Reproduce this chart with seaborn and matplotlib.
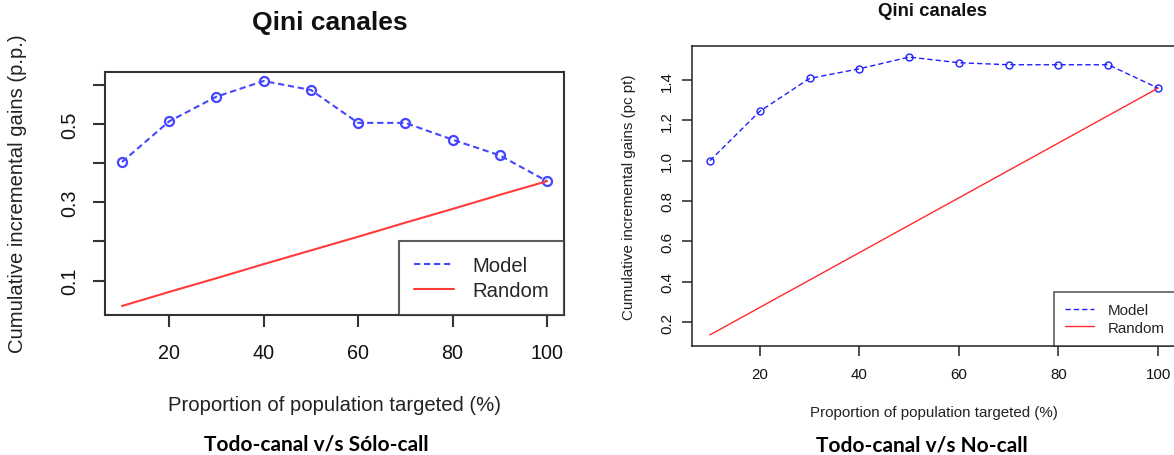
import matplotlib
matplotlib.use("Agg")
import matplotlib.pyplot as plt
import seaborn as sns
import pandas as pd

# ---- data ----
proportion = [10, 20, 30, 40, 50, 60, 70, 80, 90, 100]
model_solo = [0.403, 0.507, 0.570, 0.610, 0.587, 0.503, 0.503, 0.460, 0.420, 0.354]
random_solo = [0.035, 0.071, 0.106, 0.142, 0.177, 0.212, 0.248, 0.283, 0.319, 0.354]
model_nocall = [1.000, 1.245, 1.408, 1.456, 1.514, 1.486, 1.476, 1.476, 1.476, 1.360]
random_nocall = [0.136, 0.272, 0.408, 0.544, 0.680, 0.816, 0.952, 1.088, 1.224, 1.360]
x_ticks = [20, 40, 60, 80, 100]
y_ticks_left = [0.1, 0.2, 0.3, 0.4, 0.5, 0.6]
y_labels_left = ["0.1", "", "0.3", "", "0.5", ""]
y_ticks_right = [0.2, 0.4, 0.6, 0.8, 1.0, 1.2, 1.4]
y_labels_right = ["0.2", "0.4", "0.6", "0.8", "1.0", "1.2", "1.4"]
title = "Qini canales"
xlab = "Proportion of population targeted (%)"
ylab_left = "Cumulative incremental gains (p.p.)"
ylab_right = "Cumulative incremental gains (pc pt)"
caption_left = "Todo-canal v/s Sólo-call"
caption_right = "Todo-canal v/s No-call"
legend_labels = ["Model", "Random"]

sns.set_theme(style="white")
plt.rcParams["font.family"] = ["Liberation Sans", "DejaVu Sans"]

W, H = 1174, 456
fig = plt.figure(figsize=(W / 100, H / 100), dpi=100)
fig.patch.set_facecolor("white")


def ax_rect(x0, y0, x1, y1):
    return [x0 / W, 1 - y1 / H, (x1 - x0) / W, (y1 - y0) / H]


def draw_panel(ax, model, rand, yticks, ylabels, ylim, blue, red, lw, ms, mew, dash,
               spine_c, spine_w, tick_fs, tick_len, xpad, ypad):
    df = pd.DataFrame({"x": proportion, "model": model, "random": rand})
    sns.lineplot(data=df, x="x", y="model", ax=ax, color=blue, lw=lw,
                 marker="o", markersize=ms, markerfacecolor="none",
                 markeredgecolor=blue, markeredgewidth=mew, label=legend_labels[0])
    ax.lines[-1].set_dashes(dash)
    sns.lineplot(data=df, x="x", y="random", ax=ax, color=red, lw=lw,
                 label=legend_labels[1])
    ax.set_xlim(6.4, 103.6)
    ax.set_ylim(*ylim)
    ax.set_xticks(x_ticks)
    ax.set_xticklabels([str(t) for t in x_ticks])
    ax.set_yticks(yticks)
    ax.set_yticklabels(ylabels, rotation=90, va="center")
    ax.set_xlabel("")
    ax.set_ylabel("")
    for sp in ax.spines.values():
        sp.set_visible(True)
        sp.set_color(spine_c)
        sp.set_linewidth(spine_w)
    ax.tick_params(axis="both", direction="out", length=tick_len, width=spine_w,
                   color=spine_c, labelsize=tick_fs, labelcolor="#111111",
                   bottom=True, left=True)
    ax.tick_params(axis="x", pad=xpad)
    ax.tick_params(axis="y", pad=ypad)
    ax.grid(False)


# ---------- left panel ----------
axL = fig.add_axes(ax_rect(105, 73, 564, 316))
draw_panel(axL, model_solo, random_solo, y_ticks_left, y_labels_left, (0.012, 0.633),
           "#4646ff", "#ff3a3a", 1.5, 6.5, 1.6, (3.0, 1.8), "#333333", 1.5, 14.2, 8.5, 12, 10)
legL = axL.legend(loc="lower right", bbox_to_anchor=(1, 0), borderaxespad=0, frameon=True,
                  fancybox=False, edgecolor="#333333", fontsize=14.6, handlelength=1.95,
                  handletextpad=0.9, borderpad=0.75, labelspacing=0.3)
legL.get_frame().set_linewidth(1.5)
for h in legL.get_lines():
    h.set_marker("")
legL.get_lines()[0].set_dashes((3.0, 1.8))

fig.text(330 / W, 1 - 23 / H, title, ha="center", va="center", fontsize=19,
         fontweight="bold", color="#111111")
fig.text(334 / W, 1 - 406 / H, xlab, ha="center", va="center", fontsize=14.6, color="#222222")
fig.text(18 / W, 1 - 194 / H, ylab_left, ha="center", va="center", rotation=90,
         fontsize=14.6, color="#222222")
fig.text(316 / W, 1 - 445 / H, caption_left, ha="center", va="center", fontsize=15,
         fontweight="bold", family=["Lato", "DejaVu Sans"], color="black")

# ---------- right panel ----------
axR = fig.add_axes(ax_rect(692, 47, 1176, 347))
draw_panel(axR, model_nocall, random_nocall, y_ticks_right, y_labels_right, (0.081, 1.569),
           "#1f1fff", "#ff2b2b", 1.0, 5.0, 1.0, (3.8, 2.2), "#222222", 1.1, 10.8, 7.0, 8, 6)
legR = axR.legend(loc="lower right", bbox_to_anchor=(1, 0), borderaxespad=0, frameon=True,
                  fancybox=False, edgecolor="#222222", fontsize=10.9, handlelength=1.9,
                  handletextpad=0.9, borderpad=0.75, labelspacing=0.25)
legR.get_frame().set_linewidth(1.1)
for h in legR.get_lines():
    h.set_marker("")
legR.get_lines()[0].set_dashes((3.8, 2.2))

fig.text(933 / W, 1 - 11 / H, title, ha="center", va="center", fontsize=13.4,
         fontweight="bold", color="#111111")
fig.text(934 / W, 1 - 413 / H, xlab, ha="center", va="center", fontsize=10.9, color="#222222")
fig.text(629 / W, 1 - 197 / H, ylab_right, ha="center", va="center", rotation=90,
         fontsize=10.9, color="#222222")
fig.text(922 / W, 1 - 446 / H, caption_right, ha="center", va="center", fontsize=15,
         fontweight="bold", family=["Lato", "DejaVu Sans"], color="black")

fig.savefig("out.png", dpi=100, facecolor="white")
